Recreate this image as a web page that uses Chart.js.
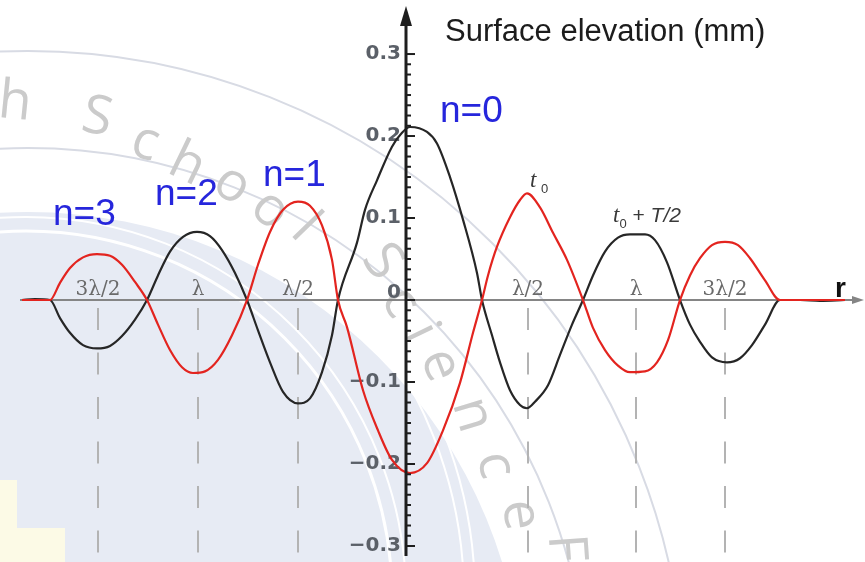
<!DOCTYPE html>
<html>
<head>
<meta charset="utf-8">
<script src="https://cdn.jsdelivr.net/npm/chart.js@4.4.1/dist/chart.umd.min.js"></script>
<style>
  body { margin: 0; background: #fff; }
  canvas { display: block; }
</style>
</head>
<body>
<canvas id="wave" width="865" height="562"></canvas>
<script>
// radial position r (arbitrary units, 0 = centre) and surface elevation (mm)
const redR = [-3.84, -3.56, -3.46, -3.36, -3.23, -3.09, -2.96, -2.84, -2.71, -2.59,
  -2.48, -2.36, -2.24, -2.13, -2.01, -1.88, -1.74, -1.59,
  -1.48, -1.36, -1.23, -1.08, -0.96, -0.84, -0.74, -0.68,
  -0.59, -0.43, -0.28, -0.14, 0.04, 0.21, 0.37, 0.54, 0.67, 0.76,
  0.82, 0.91, 1.04, 1.14, 1.21, 1.34, 1.47, 1.61, 1.77,
  1.87, 1.99, 2.12, 2.24, 2.39, 2.51, 2.62, 2.74,
  2.84, 2.94, 3.06, 3.19, 3.32, 3.44, 3.59, 3.74,
  3.94, 4.39];
const redElev = [0, 0, 0.021, 0.039, 0.052, 0.056, 0.054, 0.043, 0.022, 0,
  -0.030, -0.061, -0.082, -0.089, -0.087, -0.073, -0.043, 0,
  0.043, 0.083, 0.110, 0.120, 0.115, 0.091, 0.049, 0,
  -0.033, -0.110, -0.159, -0.195, -0.211, -0.199, -0.159, -0.101, -0.040, 0,
  0.030, 0.065, 0.101, 0.122, 0.130, 0.113, 0.082, 0.049, 0,
  -0.034, -0.061, -0.080, -0.088, -0.087, -0.076, -0.049, 0,
  0.030, 0.051, 0.067, 0.071, 0.067, 0.051, 0.024, 0,
  0, 0];

const blackR = [-3.84, -3.71, -3.56, -3.46, -3.36, -3.23, -3.09, -2.96, -2.84, -2.71,
  -2.59, -2.48, -2.36, -2.23, -2.09, -1.96, -1.84, -1.71, -1.59, -1.48,
  -1.36, -1.23, -1.08, -0.96, -0.84, -0.74, -0.68, -0.49, -0.41, -0.29,
  -0.14, -0.04, 0.04, 0.21, 0.31, 0.44, 0.57, 0.71, 0.76, 0.86,
  0.94, 1.04, 1.14, 1.21, 1.29, 1.42, 1.54, 1.66, 1.77, 1.87,
  1.99, 2.12, 2.24, 2.39, 2.49, 2.61, 2.74, 2.84, 2.94, 3.06,
  3.21, 3.34, 3.46, 3.59, 3.74, 3.94, 4.14, 4.39];
const blackElev = [0, 0.001, 0, -0.022, -0.040, -0.055, -0.059, -0.056, -0.044, -0.024,
  0, 0.030, 0.059, 0.077, 0.083, 0.078, 0.061, 0.033, 0, -0.037,
  -0.076, -0.112, -0.126, -0.120, -0.088, -0.043, 0, 0.070, 0.110, 0.146,
  0.187, 0.204, 0.211, 0.205, 0.191, 0.150, 0.098, 0.033, 0, -0.043,
  -0.076, -0.110, -0.128, -0.132, -0.124, -0.104, -0.067, -0.030, 0, 0.030,
  0.059, 0.076, 0.080, 0.080, 0.073, 0.046, 0, -0.030, -0.051, -0.070,
  -0.076, -0.071, -0.055, -0.030, 0, 0, -0.001, 0];

const yTicks = [-0.3, -0.2, -0.1, 0, 0.1, 0.2, 0.3];
const yTickLabels = ['−0.3', '−0.2', '−0.1', '0', '0.1', '0.2', '0.3'];
const markR = [-3.08, -2.08, -1.08, 1.22, 2.30, 3.19];
const markLabels = ['3λ/2', 'λ', 'λ/2', 'λ/2', 'λ', '3λ/2'];

const toPts = (rs, vs) => rs.map((r, i) => ({ x: r, y: vs[i] }));

function circle(c, x, y, rad) {
  c.beginPath();
  c.arc(x, y, rad, 0, Math.PI * 2);
}

// faint logo behind the plot
const backdrop = {
  id: 'backdrop',
  beforeDraw(chart) {
    const c = chart.ctx;
    c.save();
    c.fillStyle = '#fff';
    c.fillRect(0, 0, chart.width, chart.height);
    c.fillStyle = '#e7ebf4';
    circle(c, 28, 708, 496); c.fill();
    c.strokeStyle = '#fff';
    c.lineWidth = 3;
    circle(c, 26, 597, 366); c.stroke();
    c.lineWidth = 2;
    circle(c, 26, 597, 380); c.stroke();
    circle(c, 26, 597, 438); c.stroke();
    circle(c, 26, 597, 449); c.stroke();
    c.strokeStyle = '#d8dbe4';
    circle(c, 28, 708, 560); c.stroke();
    circle(c, 28, 708, 657); c.stroke();
    c.fillStyle = '#fcfae6';
    c.fillRect(0, 480, 17, 82);
    c.fillRect(0, 528, 65, 34);

    const letters = [['h', 15, 103, 0.1], ['S', 97, 118, 0.2], ['c', 145, 143, 0.32], ['h', 187, 165, 0.45],
      ['o', 232, 185, 0.58], ['o', 270, 210, 0.7], ['l', 305, 228, 0.8], ['S', 382, 262, 0.95],
      ['c', 400, 302, 1.05], ['i', 420, 333, 1.12], ['e', 440, 365, 1.2], ['n', 472, 415, 1.28],
      ['c', 495, 465, 1.35], ['e', 520, 515, 1.42], ['F', 565, 548, 1.5]];
    c.fillStyle = '#cbcbcb';
    c.font = '54px "Open Sans"';
    c.textAlign = 'center';
    c.textBaseline = 'middle';
    letters.forEach(([ch, lx, ly, a]) => {
      c.save();
      c.translate(lx, ly);
      c.rotate(a);
      c.fillText(ch, 0, 0);
      c.restore();
    });
    c.restore();
  }
};

const axes = {
  id: 'axes',
  beforeDatasetsDraw(chart) {
    const { ctx: c, scales: { x, y } } = chart;
    const y0 = y.getPixelForValue(0);
    const x0 = x.getPixelForValue(0);
    c.save();
    c.strokeStyle = '#b3b3b3';
    c.lineWidth = 2;
    c.setLineDash([22, 22.5]);
    markR.forEach(r => {
      const px = Math.round(x.getPixelForValue(r));
      c.beginPath();
      c.moveTo(px, y0 + 8);
      c.lineTo(px, chart.height - 6);
      c.stroke();
    });
    c.setLineDash([]);

    c.strokeStyle = '#858585';
    c.beginPath();
    c.moveTo(20, y0);
    c.lineTo(856, y0);
    c.stroke();
    c.fillStyle = '#858585';
    c.beginPath();
    c.moveTo(864, y0);
    c.lineTo(852, y0 - 4);
    c.lineTo(852, y0 + 4);
    c.closePath();
    c.fill();

    c.font = '20px "DejaVu Serif"';
    c.fillStyle = '#6a6a6a';
    c.textAlign = 'center';
    c.textBaseline = 'alphabetic';
    markR.forEach((r, i) => c.fillText(markLabels[i], x.getPixelForValue(r), y0 - 5));

    c.font = 'bold 20px "DejaVu Sans"';
    c.fillStyle = '#5b6068';
    c.textAlign = 'right';
    c.textBaseline = 'middle';
    yTicks.forEach((v, i) => {
      c.fillText(yTickLabels[i], x0 - 5, y.getPixelForValue(v) - (v === 0 ? 7 : 0));
    });
    c.restore();
  },
  afterDatasetsDraw(chart) {
    const { ctx: c, scales: { x, y } } = chart;
    const x0 = x.getPixelForValue(0);
    c.save();
    c.strokeStyle = '#1e1e1e';
    c.fillStyle = '#1e1e1e';
    c.lineWidth = 3;
    c.beginPath();
    c.moveTo(x0, 556);
    c.lineTo(x0, 22);
    c.stroke();
    c.beginPath();
    c.moveTo(x0, 6);
    c.lineTo(x0 - 6, 26);
    c.lineTo(x0 + 6, 26);
    c.closePath();
    c.fill();
    c.lineWidth = 2;
    for (let k = -24; k <= 24; k++) {
      const py = y.getPixelForValue(k * 0.0125);
      const len = k % 8 === 0 ? 9 : 5;
      c.beginPath();
      c.moveTo(x0, py);
      c.lineTo(x0 + len, py);
      c.stroke();
    }
    c.restore();
  }
};

const notes = {
  id: 'notes',
  afterDraw(chart) {
    const c = chart.ctx;
    c.save();
    c.textAlign = 'left';
    c.textBaseline = 'alphabetic';
    c.fillStyle = '#1c1c1c';
    c.font = '31px "Liberation Sans"';
    c.fillText('Surface elevation (mm)', 445, 41);

    c.fillStyle = '#2626dc';
    c.font = '37px "Liberation Sans"';
    c.fillText('n=0', 440, 122);
    c.fillText('n=1', 263, 186);
    c.fillText('n=2', 155, 205);
    c.fillText('n=3', 53, 225);

    c.fillStyle = '#3a3a3a';
    c.font = 'italic 23px "Liberation Serif"';
    c.fillText('t', 530, 187);
    c.font = '13px "Liberation Sans"';
    c.fillText('0', 541, 193);

    let px = 613;
    c.font = 'italic 23px "Liberation Serif"';
    c.fillText('t', px, 222);
    px += c.measureText('t').width;
    c.font = '13px "Liberation Sans"';
    c.fillText('0', px, 228);
    px += c.measureText('0').width;
    c.font = '21px "Liberation Sans"';
    c.fillText(' + ', px, 222);
    px += c.measureText(' + ').width;
    c.font = 'italic 21px "Liberation Sans"';
    c.fillText('T/2', px, 222);

    c.fillStyle = '#111';
    c.font = 'bold 28px "Liberation Sans"';
    c.fillText('r', 835, 297);
    c.restore();
  }
};

new Chart(document.getElementById('wave'), {
  type: 'line',
  data: {
    datasets: [
      {
        label: 't0',
        data: toPts(redR, redElev),
        borderColor: '#e3241f',
        borderWidth: 2.2,
        pointRadius: 0,
        cubicInterpolationMode: 'monotone'
      },
      {
        label: 't0 + T/2',
        data: toPts(blackR, blackElev),
        borderColor: '#262626',
        borderWidth: 2.2,
        pointRadius: 0,
        cubicInterpolationMode: 'monotone'
      }
    ]
  },
  options: {
    responsive: false,
    animation: false,
    devicePixelRatio: 1,
    layout: { padding: 0 },
    plugins: {
      legend: { display: false },
      tooltip: { enabled: false }
    },
    scales: {
      x: { type: 'linear', min: -4.06, max: 4.59, display: false },
      y: { type: 'linear', min: -0.3195, max: 0.3659, display: false }
    }
  },
  plugins: [backdrop, axes, notes]
});
</script>
</body>
</html>
